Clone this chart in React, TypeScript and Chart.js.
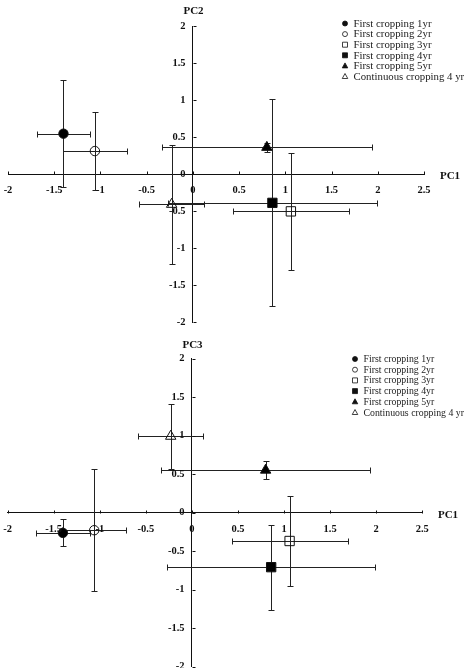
import React, { useEffect, useRef } from "react";
import { Chart, registerables } from "chart.js";
Chart.register(...registerables);

// ---------- data ----------
const SERIES = [
  "First cropping 1yr",
  "First cropping 2yr",
  "First cropping 3yr",
  "First cropping 4yr",
  "First cropping 5yr",
  "Continuous cropping 4 yr",
];
const PC1 = [-1.4, -1.06, 1.06, 0.86, 0.8, -0.23];
const PC1_ERR = [0.29, 0.345, 0.63, 1.13, 1.135, 0.35];
const PC2 = [0.545, 0.31, -0.505, -0.39, 0.36, -0.41];
const PC2_ERR = [0.72, 0.53, 0.795, 1.4, 0.06, 0.8];
const PC3 = [-0.265, -0.23, -0.37, -0.71, 0.55, 0.99];
const PC3_ERR = [0.175, 0.79, 0.58, 0.55, 0.115, 0.42];
const X_TICKS = [-2, -1.5, -1, -0.5, 0, 0.5, 1, 1.5, 2, 2.5];
const Y_TICKS = [-2, -1.5, -1, -0.5, 0, 0.5, 1, 1.5, 2];

// ---------- styles ----------
const FILLED = [true, false, false, true, true, false];
const SHAPES = ["circle", "circle", "rect", "rect", "triangle", "triangle"];
const RADII: Record<string, number> = { circle: 4.7, rect: 6.6, triangle: 6 };
const SERIF = "'Liberation Serif', 'Times New Roman', serif";

function drawShape(ctx: CanvasRenderingContext2D, shape: string, filled: boolean, x: number, y: number, s: number) {
  ctx.beginPath();
  if (shape === "circle") ctx.arc(x, y, s / 2, 0, Math.PI * 2);
  else if (shape === "rect") ctx.rect(x - s / 2, y - s / 2, s, s);
  else {
    ctx.moveTo(x, y - s * 0.6);
    ctx.lineTo(x + s * 0.55, y + s * 0.4);
    ctx.lineTo(x - s * 0.55, y + s * 0.4);
    ctx.closePath();
  }
  if (filled) ctx.fill();
  ctx.stroke();
}

const decoPlugin = {
  id: "deco",
  beforeDatasetsDraw(chart: any) {
    const { ctx } = chart;
    const xs = chart.scales.x;
    const ys = chart.scales.y;
    ctx.save();
    ctx.strokeStyle = "#222";
    ctx.lineWidth = 1;
    chart.data.datasets.forEach((ds: any) => {
      ds.data.forEach((p: any, i: number) => {
        const px = Math.round(xs.getPixelForValue(p.x)) + 0.5;
        const py = Math.round(ys.getPixelForValue(p.y)) + 0.5;
        const xl = Math.round(xs.getPixelForValue(p.x - ds.xErr[i])) + 0.5;
        const xr = Math.round(xs.getPixelForValue(p.x + ds.xErr[i])) + 0.5;
        const yt = Math.round(ys.getPixelForValue(p.y + ds.yErr[i])) + 0.5;
        const yb = Math.round(ys.getPixelForValue(p.y - ds.yErr[i])) + 0.5;
        const c = 3;
        ctx.beginPath();
        ctx.moveTo(xl, py); ctx.lineTo(xr, py);
        ctx.moveTo(xl, py - c); ctx.lineTo(xl, py + c);
        ctx.moveTo(xr, py - c); ctx.lineTo(xr, py + c);
        ctx.moveTo(px, yt); ctx.lineTo(px, yb);
        ctx.moveTo(px - c, yt); ctx.lineTo(px + c, yt);
        ctx.moveTo(px - c, yb); ctx.lineTo(px + c, yb);
        ctx.stroke();
      });
    });
    ctx.restore();
  },
  afterDraw(chart: any) {
    const { ctx } = chart;
    const o = chart.options.plugins.deco;
    const xs = chart.scales.x;
    const ys = chart.scales.y;
    const ax = Math.round(xs.getPixelForValue(0)) + 0.5;
    const ay = Math.round(ys.getPixelForValue(0)) + 0.5;
    ctx.save();
    ctx.strokeStyle = "#111";
    ctx.lineWidth = 1;
    ctx.beginPath();
    X_TICKS.forEach((v) => {
      const px = Math.round(xs.getPixelForValue(v)) + 0.5;
      ctx.moveTo(px, ay); ctx.lineTo(px, ay - 3);
    });
    Y_TICKS.forEach((v) => {
      const py = Math.round(ys.getPixelForValue(v)) + 0.5;
      ctx.moveTo(ax, py); ctx.lineTo(ax + 3, py);
    });
    ctx.stroke();
    // tick labels
    ctx.fillStyle = "#111";
    ctx.font = `bold 10.5px ${SERIF}`;
    ctx.textBaseline = "middle";
    ctx.textAlign = "center";
    X_TICKS.forEach((v) => {
      ctx.fillText(String(v), xs.getPixelForValue(v), ay + 15.5);
    });
    ctx.textAlign = "right";
    Y_TICKS.forEach((v) => {
      ctx.fillText(String(v), ax - o.yLabGap, ys.getPixelForValue(v));
    });
    // axis titles
    ctx.font = `bold 11px ${SERIF}`;
    ctx.textAlign = "center";
    ctx.fillText(o.yTitle, ax, o.yTitleY);
    ctx.fillText("PC1", o.xTitleX, ay + 2);
    // legend
    ctx.font = `${o.legFont}px ${SERIF}`;
    ctx.textAlign = "left";
    SERIES.forEach((name, i) => {
      const ly = o.legY + i * o.legStep;
      ctx.fillStyle = "#111";
      ctx.strokeStyle = "#111";
      ctx.lineWidth = 0.8;
      drawShape(ctx, SHAPES[i], FILLED[i], o.legX, ly, 5);
      ctx.fillStyle = "#222";
      ctx.fillText(name, o.legX + 8.5, ly + 0.5);
    });
    ctx.restore();
  },
};

function buildChart(canvas: HTMLCanvasElement, yVals: number[], yErr: number[], cfg: any) {
  const datasets = SERIES.map((name, i) => ({
    label: name,
    data: [{ x: PC1[i], y: yVals[i] }],
    xErr: [PC1_ERR[i]],
    yErr: [yErr[i]],
    pointStyle: SHAPES[i],
    pointRadius: RADII[SHAPES[i]],
    pointHoverRadius: RADII[SHAPES[i]],
    backgroundColor: FILLED[i] ? "#000" : "rgba(0,0,0,0)",
    borderColor: "#111",
    borderWidth: 1,
  }));
  return new Chart(canvas, {
    type: "scatter",
    data: { datasets } as any,
    plugins: [decoPlugin],
    options: {
      animation: false,
      responsive: false,
      devicePixelRatio: 1,
      layout: { padding: cfg.padding },
      plugins: {
        legend: { display: false },
        tooltip: { enabled: false },
        deco: cfg.deco,
      } as any,
      scales: {
        x: {
          type: "linear",
          min: -2,
          max: 2.5,
          position: { y: 0 } as any,
          afterBuildTicks: (s: any) => { s.ticks = X_TICKS.map((v) => ({ value: v })); },
          ticks: { display: false },
          grid: { display: false, drawTicks: false },
          border: { display: true, color: "#111", width: 1 },
        },
        y: {
          type: "linear",
          min: -2,
          max: 2,
          position: { x: 0 } as any,
          afterBuildTicks: (s: any) => { s.ticks = Y_TICKS.map((v) => ({ value: v })); },
          ticks: { display: false },
          grid: { display: false, drawTicks: false },
          border: { display: true, color: "#111", width: 1 },
        },
      },
    },
  });
}

function Panel({ yVals, yErr, cfg, top }: any) {
  const ref = useRef<HTMLCanvasElement>(null);
  useEffect(() => {
    const chart = buildChart(ref.current!, yVals, yErr, cfg);
    return () => chart.destroy();
  }, []);
  return (
    <canvas
      ref={ref}
      width={469}
      height={340}
      style={{ position: "absolute", left: 0, top, width: 469, height: 340 }}
    />
  );
}

export default function App() {
  useEffect(() => {
    document.body.style.margin = "0";
    document.body.style.background = "#fff";
  }, []);
  return (
    <div style={{ position: "relative", width: 469, height: 668, overflow: "hidden", background: "#fff" }}>
      <Panel
        yVals={PC2}
        yErr={PC2_ERR}
        top={0}
        cfg={{
          padding: { left: 8, right: 45, top: 26, bottom: 18 },
          deco: { yTitle: "PC2", yTitleY: 11, xTitleX: 450, legX: 345, legY: 23.5, legStep: 10.6, yLabGap: 8, legFont: 10.8 },
        }}
      />
      <Panel
        yVals={PC3}
        yErr={PC3_ERR}
        top={340}
        cfg={{
          padding: { left: 3.3, right: 46.7, top: 18.5, bottom: 13.5 },
          deco: { yTitle: "PC3", yTitleY: 5, xTitleX: 448, legX: 355, legY: 19, legStep: 10.7, yLabGap: 8, legFont: 9.8 },
        }}
      />
    </div>
  );
}
